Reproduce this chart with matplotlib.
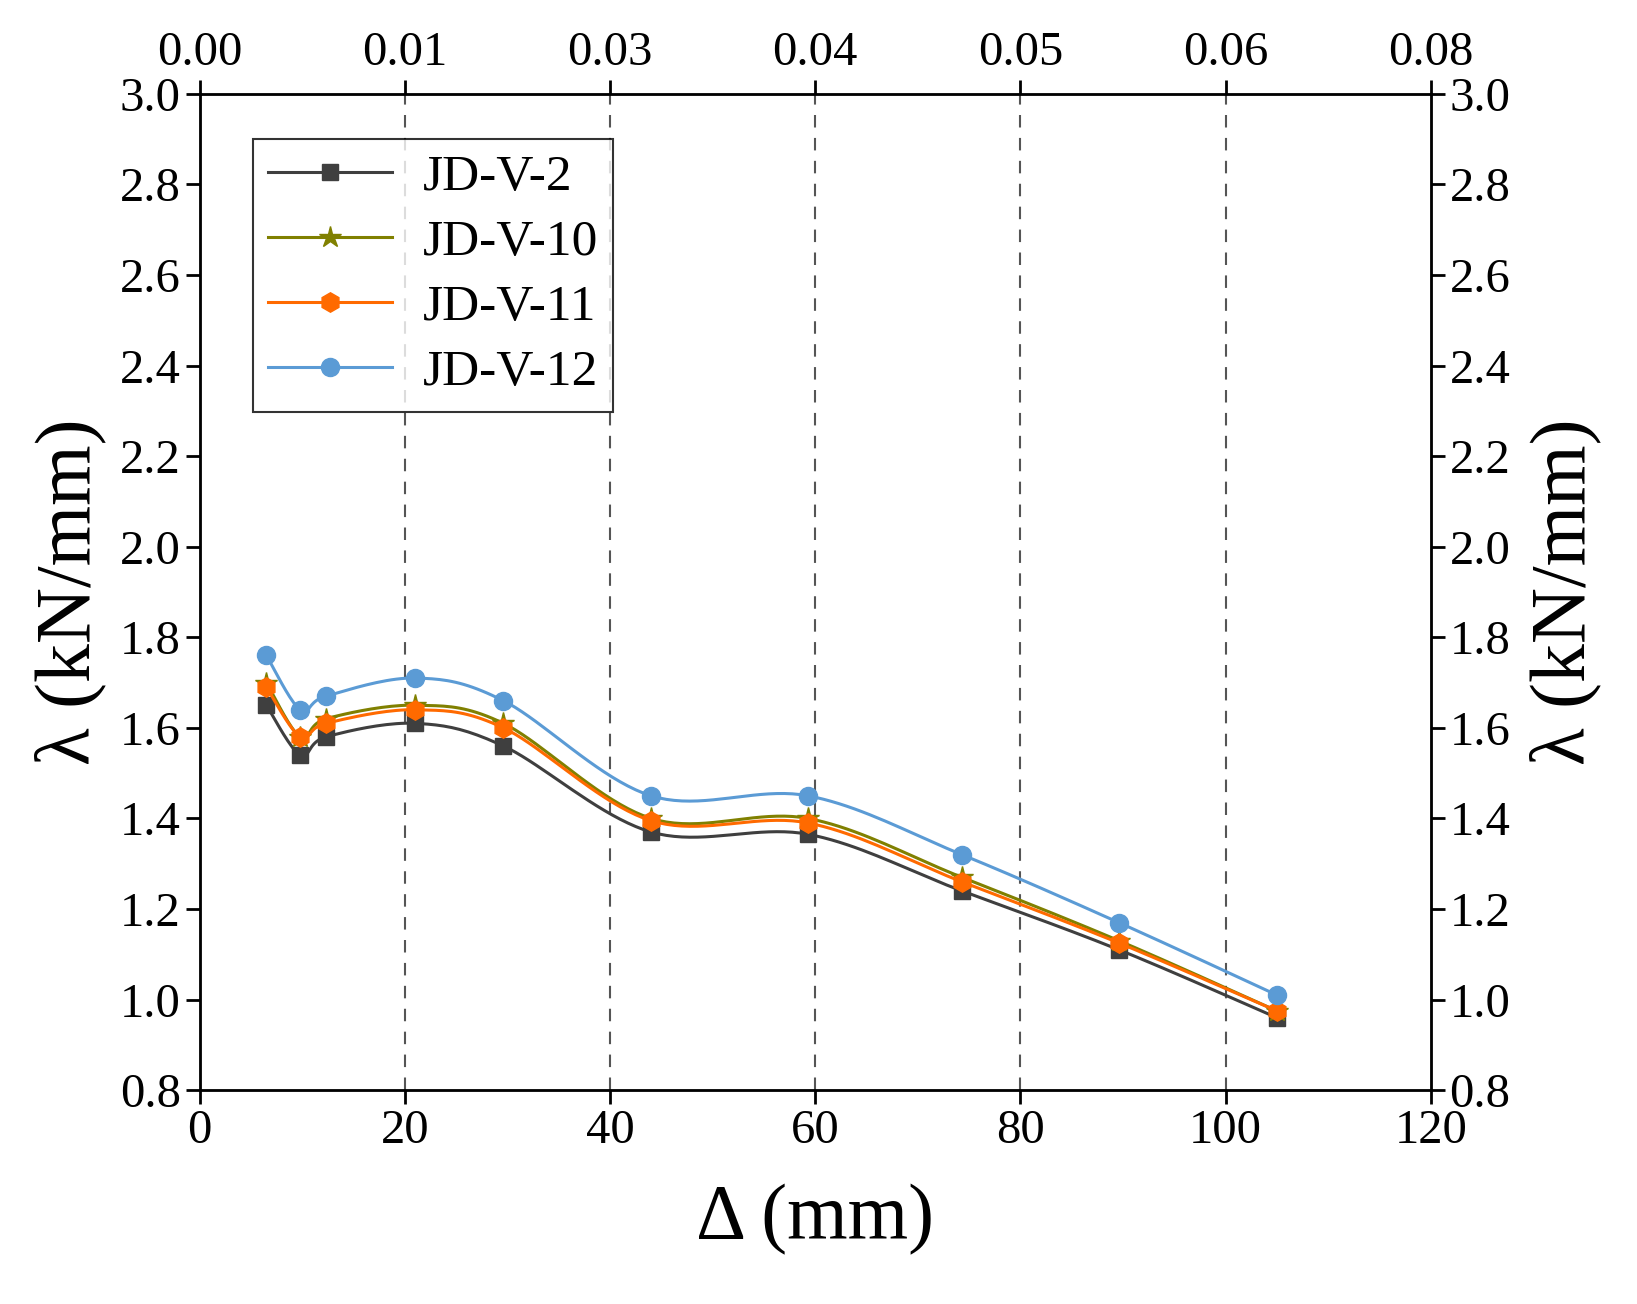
import numpy as np
import matplotlib
matplotlib.use("Agg")
import matplotlib.pyplot as plt

plt.rcParams["font.family"] = "Liberation Serif"

disp = [6.5, 9.8, 12.3, 21.0, 29.6, 44.0, 59.3, 74.3, 89.6, 105.0]
jd2 = [1.65, 1.54, 1.58, 1.61, 1.56, 1.37, 1.365, 1.24, 1.11, 0.96]
jd10 = [1.70, 1.58, 1.62, 1.65, 1.61, 1.40, 1.40, 1.27, 1.13, 0.975]
jd11 = [1.69, 1.58, 1.61, 1.64, 1.60, 1.395, 1.39, 1.26, 1.125, 0.975]
jd12 = [1.76, 1.64, 1.67, 1.71, 1.66, 1.45, 1.45, 1.32, 1.17, 1.01]
top_labels = ["0.00", "0.01", "0.03", "0.04", "0.05", "0.06", "0.08"]

def smooth(x, y, n=20):
    x = np.asarray(x); y = np.asarray(y)
    P = np.column_stack([x, y])
    P = np.vstack([P[0], P, P[-1]])
    out = []
    for i in range(1, len(P) - 2):
        p0, p1, p2, p3 = P[i-1], P[i], P[i+1], P[i+2]
        t = np.linspace(0, 1, n, endpoint=False)[:, None]
        pts = 0.5 * ((2*p1) + (-p0+p2)*t + (2*p0-5*p1+4*p2-p3)*t**2 + (-p0+3*p1-3*p2+p3)*t**3)
        out.append(pts)
    out.append(P[-2][None, :])
    out = np.vstack(out)
    return out[:, 0], out[:, 1]

fig = plt.figure(figsize=(16.37, 13.04), dpi=100)
ax = fig.add_axes([0.122, 0.164, 0.752, 0.764])

series = [
    ("JD-V-2", jd2, "#3f3f3f", "s", 12),
    ("JD-V-10", jd10, "#808000", "*", 16),
    ("JD-V-11", jd11, "#ff6a00", "h", 14),
    ("JD-V-12", jd12, "#5b9bd5", "o", 13),
]
for name, y, c, m, ms in series:
    sx, sy = smooth(disp, y)
    ax.plot(sx, sy, color=c, lw=2.2)
    ax.plot(disp, y, ls="none", marker=m, ms=ms, color=c, mec=c)
    ax.plot([], [], color=c, lw=2.2, marker=m, ms=ms, label=name)

for xv in [20, 40, 60, 80, 100]:
    ax.axvline(xv, color="#555555", ls=(0, (6, 5)), lw=1.5, zorder=0)

ax.set_xlim(0, 120)
ax.set_ylim(0.8, 3.0)
ax.set_xticks(np.arange(0, 121, 20))
ax.set_yticks(np.arange(0.8, 3.01, 0.2))
ax.set_yticklabels([f"{v:.1f}" for v in np.arange(0.8, 3.01, 0.2)])
ax.tick_params(labelsize=35, width=2, length=10, direction="out")
for s in ax.spines.values():
    s.set_linewidth(2)
ax.set_xlabel("Δ (mm)", fontsize=56, labelpad=22)
ax.set_ylabel("λ (kN/mm)", fontsize=56, labelpad=10)

ax2 = ax.twinx()
ax2.set_ylim(0.8, 3.0)
ax2.set_yticks(np.arange(0.8, 3.01, 0.2))
ax2.set_yticklabels([f"{v:.1f}" for v in np.arange(0.8, 3.01, 0.2)])
ax2.tick_params(labelsize=35, width=2, length=10)
ax2.set_ylabel("λ (kN/mm)", fontsize=56, labelpad=14)

ax3 = ax.twiny()
ax3.set_xlim(0, 120)
ax3.set_xticks(np.arange(0, 121, 20))
ax3.set_xticklabels(top_labels)
ax3.tick_params(labelsize=35, width=2, length=10)

leg = ax.legend(loc="upper left", bbox_to_anchor=(0.035, 0.965), fontsize=37,
                frameon=True, fancybox=False, edgecolor="black", handlelength=2.4,
                borderpad=0.3, labelspacing=0.35, handletextpad=0.6, borderaxespad=0.2)
leg.get_frame().set_linewidth(1.5)

fig.savefig("out.png", dpi=100)
